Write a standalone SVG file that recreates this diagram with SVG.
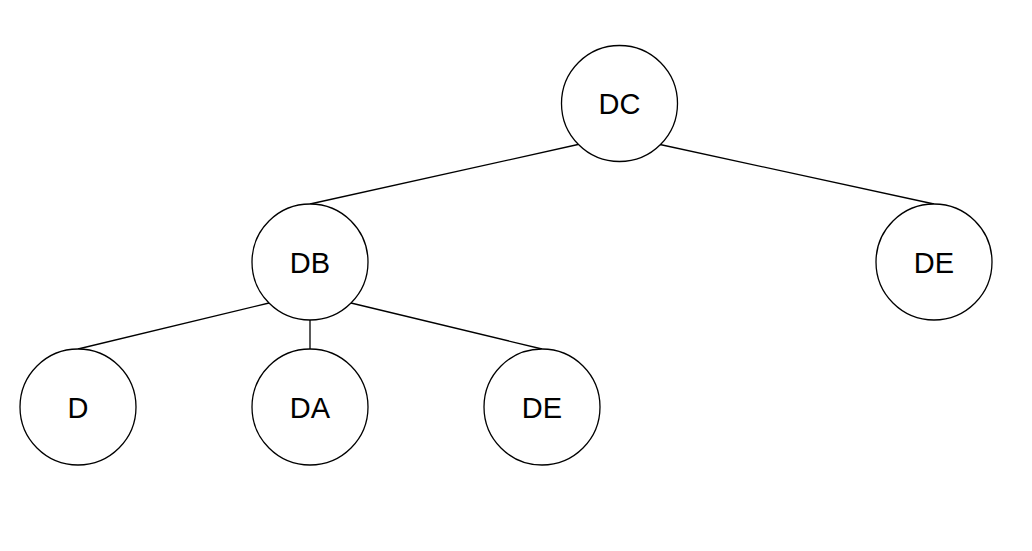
<svg xmlns="http://www.w3.org/2000/svg" width="1032" height="551" viewBox="0 0 1032 551">
<style>
.n circle{fill:#fff;stroke:#000;stroke-width:1.3}
.n text{font-family:"Liberation Sans",Arial,sans-serif;font-size:29px;text-anchor:middle;fill:#000}
.e line{stroke:#000;stroke-width:1.3}
</style>
<rect width="1032" height="551" fill="#fff"/>
<g class="e" id="connectors">
<line x1="578" y1="144.5" x2="310" y2="204"/>
<line x1="660" y1="144.5" x2="934" y2="204"/>
<line x1="269" y1="303" x2="78" y2="349"/>
<line x1="310" y1="320" x2="310" y2="349"/>
<line x1="351" y1="303" x2="542" y2="349"/>
</g>
<g class="n" id="node-DC"><circle cx="619.5" cy="103.5" r="58"/><text x="619.5" y="114">DC</text></g>
<g class="n" id="node-DB"><circle cx="310" cy="262" r="58"/><text x="310" y="272.5">DB</text></g>
<g class="n" id="node-DE1"><circle cx="934" cy="262" r="58"/><text x="934" y="272.5">DE</text></g>
<g class="n" id="node-D"><circle cx="78" cy="407" r="58"/><text x="78" y="417.5">D</text></g>
<g class="n" id="node-DA"><circle cx="310" cy="407" r="58"/><text x="310" y="417.5">DA</text></g>
<g class="n" id="node-DE2"><circle cx="542" cy="407" r="58"/><text x="542" y="417.5">DE</text></g>
</svg>
